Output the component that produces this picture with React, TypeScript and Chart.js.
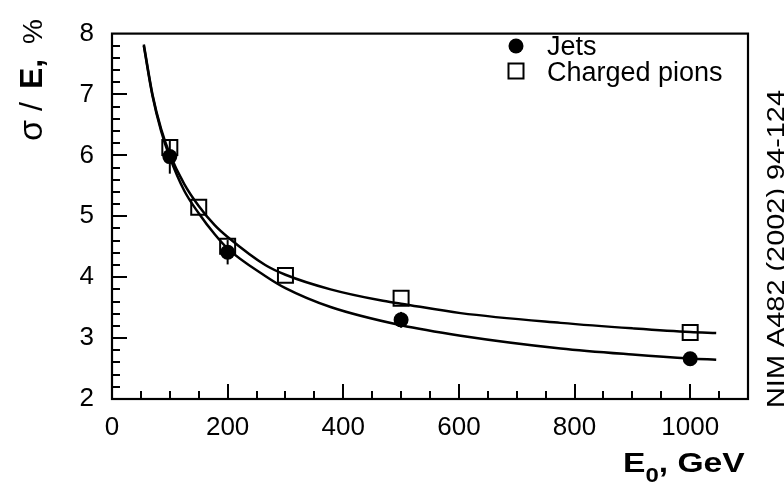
import React, { useEffect, useRef } from 'react';
import { Chart, registerables } from 'chart.js';

Chart.register(...registerables);

const FONT = '"Liberation Sans", Arial, Helvetica, sans-serif';

// Axis tick labels
const X_TICKS = [0, 200, 400, 600, 800, 1000];
const Y_TICKS = [2, 3, 4, 5, 6, 7, 8];

// Measured points
const JETS_E = [100, 200, 500, 1000];
const JETS_RES = [5.98, 4.41, 3.3, 2.66];
const JETS_ERR = [0.28, 0.2, 0.13, 0];

const PIONS_E = [100, 150, 200, 300, 500, 1000];
const PIONS_RES = [6.13, 5.15, 4.51, 4.03, 3.655, 3.09];

// Fit curves
const JETS_FIT_E = [55, 70, 85, 100, 125, 150, 178, 200, 265, 300, 378, 500, 603, 776, 900, 1000, 1045];
const JETS_FIT_RES = [7.8, 6.98, 6.4, 5.97, 5.42, 5.05, 4.7, 4.47, 4.02, 3.82, 3.51, 3.21, 3.04, 2.83, 2.73, 2.665, 2.645];

const PIONS_FIT_E = [55, 70, 85, 100, 125, 150, 178, 200, 265, 300, 378, 464, 500, 603, 776, 900, 1000, 1045];
const PIONS_FIT_RES = [7.82, 7.0, 6.43, 6.02, 5.53, 5.17, 4.85, 4.66, 4.2, 4.04, 3.8, 3.62, 3.565, 3.41, 3.25, 3.16, 3.1, 3.085];

const LEGEND = ['Jets', 'Charged pions'];

const toXY = (xs: number[], ys: number[]) => xs.map((x, i) => ({ x, y: ys[i] }));

const decorPlugin = {
  id: 'decor',
  afterDatasetsDraw(chart: any) {
    const { ctx, chartArea, scales } = chart;
    const xs = scales.x;
    const ys = scales.y;
    ctx.save();
    ctx.strokeStyle = '#000';
    ctx.lineWidth = 2;
    // error bars
    JETS_E.forEach((e, i) => {
      const err = JETS_ERR[i];
      if (!err) return;
      const px = xs.getPixelForValue(e);
      ctx.beginPath();
      ctx.moveTo(px, ys.getPixelForValue(JETS_RES[i] - err));
      ctx.lineTo(px, ys.getPixelForValue(JETS_RES[i] + err));
      ctx.stroke();
    });
    // frame
    ctx.lineWidth = 2.2;
    ctx.strokeRect(chartArea.left, chartArea.top, chartArea.right - chartArea.left, chartArea.bottom - chartArea.top);
    ctx.lineWidth = 2;
    // x ticks (inside)
    for (let v = 50; v <= 1050; v += 50) {
      const px = Math.round(xs.getPixelForValue(v));
      const len = v % 200 === 0 ? 15 : 8;
      ctx.beginPath();
      ctx.moveTo(px, chartArea.bottom);
      ctx.lineTo(px, chartArea.bottom - len);
      ctx.stroke();
    }
    // y ticks (inside)
    for (let k = 1; k < 30; k++) {
      const v = 2 + k * 0.2;
      const py = Math.round(ys.getPixelForValue(v));
      const len = k % 5 === 0 ? 15 : 8;
      ctx.beginPath();
      ctx.moveTo(chartArea.left, py);
      ctx.lineTo(chartArea.left + len, py);
      ctx.stroke();
    }
    ctx.restore();
  },
  afterDraw(chart: any) {
    const { ctx } = chart;
    ctx.save();
    ctx.fillStyle = '#000';
    ctx.strokeStyle = '#000';
    ctx.textBaseline = 'alphabetic';
    ctx.textAlign = 'left';

    // legend
    ctx.beginPath();
    ctx.arc(516, 46, 7.5, 0, Math.PI * 2);
    ctx.fill();
    ctx.lineWidth = 2;
    ctx.strokeRect(508.5, 63.5, 15, 15);
    ctx.font = `27px ${FONT}`;
    ctx.fillText(LEGEND[0], 547, 55);
    ctx.fillText(LEGEND[1], 547, 81);

    // x title (slightly widened like the original)
    ctx.save();
    ctx.translate(623, 472);
    ctx.scale(1.2, 1);
    ctx.font = `bold 28px ${FONT}`;
    ctx.fillText('E', 0, 0);
    let u = ctx.measureText('E').width;
    ctx.font = `bold 20px ${FONT}`;
    ctx.fillText('0', u, 10);
    u += ctx.measureText('0').width;
    ctx.font = `bold 28px ${FONT}`;
    ctx.fillText(', GeV', u, 0);
    ctx.restore();

    // y title (rotated)
    ctx.save();
    ctx.translate(42, 141);
    ctx.rotate(-Math.PI / 2);
    ctx.font = `34px ${FONT}`;
    ctx.fillText('σ', 0, 0);
    ctx.font = `32px ${FONT}`;
    ctx.fillText('/', 30, 0);
    ctx.font = `bold 32px ${FONT}`;
    ctx.fillText('E,', 52, 0);
    ctx.font = `28px ${FONT}`;
    ctx.fillText('%', 97, 0);
    ctx.restore();

    // reference text on the right (stretched along its length like the original)
    ctx.save();
    ctx.translate(783.5, 408);
    ctx.rotate(-Math.PI / 2);
    ctx.font = `23px ${FONT}`;
    const w = ctx.measureText('NIM A482 (2002) 94-124').width;
    ctx.scale(318 / w, 1);
    ctx.fillText('NIM A482 (2002) 94-124', 0, 0);
    ctx.restore();

    ctx.restore();
  },
};

export default function App() {
  const ref = useRef<HTMLCanvasElement>(null);

  useEffect(() => {
    if (!ref.current) return;
    const chart = new Chart(ref.current, {
      type: 'line',
      data: {
        datasets: [
          {
            label: 'Jets fit',
            data: toXY(JETS_FIT_E, JETS_FIT_RES),
            borderColor: '#000',
            borderWidth: 2.5,
            pointRadius: 0,
            cubicInterpolationMode: 'monotone',
            fill: false,
          },
          {
            label: 'Pions fit',
            data: toXY(PIONS_FIT_E, PIONS_FIT_RES),
            borderColor: '#000',
            borderWidth: 2.5,
            pointRadius: 0,
            cubicInterpolationMode: 'monotone',
            fill: false,
          },
          {
            label: LEGEND[0],
            data: toXY(JETS_E, JETS_RES),
            showLine: false,
            pointStyle: 'circle',
            pointRadius: 7.5,
            backgroundColor: '#000',
            borderColor: '#000',
            borderWidth: 0,
          },
          {
            label: LEGEND[1],
            data: toXY(PIONS_E, PIONS_RES),
            showLine: false,
            pointStyle: 'rect',
            pointRadius: 10.6,
            backgroundColor: 'rgba(0,0,0,0)',
            borderColor: '#000',
            borderWidth: 2,
          },
        ],
      } as any,
      options: {
        responsive: false,
        animation: false,
        events: [],
        layout: { padding: { top: 20, right: 36, left: 0, bottom: 0 } },
        plugins: { legend: { display: false }, tooltip: { enabled: false } },
        scales: {
          x: {
            type: 'linear',
            min: 0,
            max: 1100,
            grid: { display: false, drawTicks: false },
            border: { display: false },
            afterBuildTicks: (s: any) => {
              s.ticks = X_TICKS.map((v) => ({ value: v }));
            },
            afterFit: (s: any) => {
              s.height = 87;
            },
            ticks: {
              font: { family: FONT, size: 26 },
              color: '#000',
              padding: 13,
              maxRotation: 0,
              autoSkip: false,
              callback: (v: any) => String(v),
            },
          },
          y: {
            type: 'linear',
            min: 2,
            max: 8,
            grid: { display: false, drawTicks: false },
            border: { display: false },
            afterBuildTicks: (s: any) => {
              s.ticks = Y_TICKS.map((v) => ({ value: v }));
            },
            afterFit: (s: any) => {
              s.width = 112;
            },
            ticks: {
              font: { family: FONT, size: 26 },
              color: '#000',
              padding: 18,
              autoSkip: false,
              callback: (v: any) => String(v),
            },
          },
        },
      } as any,
      plugins: [decorPlugin],
    });
    return () => chart.destroy();
  }, []);

  return (
    <div style={{ position: 'fixed', left: 0, top: 0, width: 784, height: 486, background: '#fff' }}>
      <canvas ref={ref} width={784} height={486} style={{ display: 'block' }} />
    </div>
  );
}
